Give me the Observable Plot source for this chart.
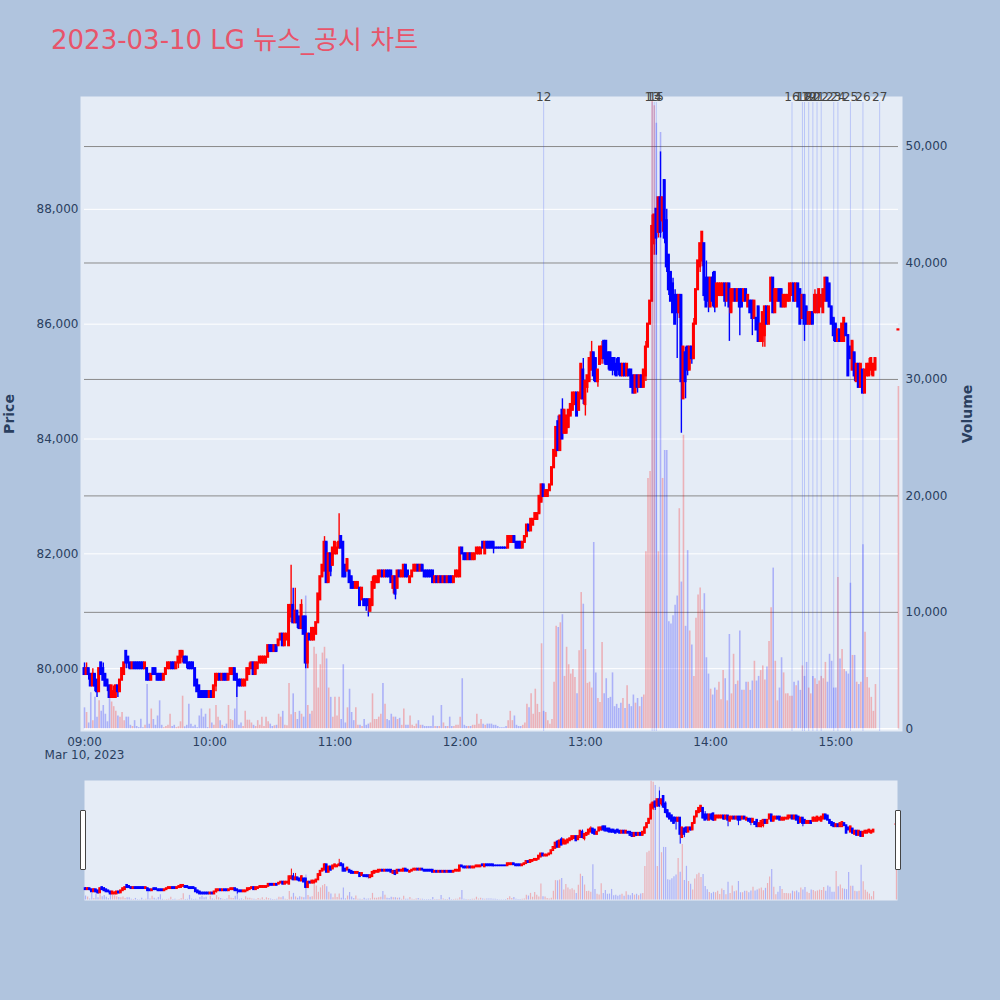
<!DOCTYPE html>
<html lang="ko">
<head>
<meta charset="utf-8">
<script src="https://cdn.jsdelivr.net/npm/d3@7"></script>
<script src="https://cdn.jsdelivr.net/npm/@observablehq/plot@0.6"></script>
<style>
html,body{margin:0;padding:0;background:#B0C4DE;}
#root{position:relative;width:1000px;height:1000px;background:#B0C4DE;overflow:hidden;font-family:"DejaVu Sans",Verdana,"Noto Sans CJK KR",sans-serif;}
#root svg{position:absolute;left:0;}
.title{position:absolute;left:51px;top:23px;font-size:26px;line-height:34px;color:#E8546A;white-space:nowrap;font-family:"DejaVu Sans","Noto Sans CJK KR",sans-serif;}
.axt{position:absolute;font-size:14px;font-weight:bold;color:#2a3f5f;transform:translate(-50%,-50%) rotate(-90deg);white-space:nowrap;}
.handle{position:absolute;top:810px;width:4px;height:58px;background:#fff;border:1px solid #444;border-radius:1px;z-index:5;}
</style>
</head>
<body>
<div id="root">
  <div class="title">2023-03-10 LG 뉴스_공시 차트</div>
  <div class="axt" style="left:9px;top:414px">Price</div>
  <div class="axt" style="left:967px;top:414px">Volume</div>
  <div class="handle" style="left:80px"></div>
  <div class="handle" style="left:895px"></div>
</div>
<script>
// ---- data: 1-minute bars of 2023-03-10, 09:00-15:19 plus the 15:30 close (prices in units of 100 KRW)
const day = "2023-03-10";
const sessionStart = "09:00", sessionEnd = "15:20", closeAuction = "15:30";

const open = [
800,799,800,799,797,799,798,796,801,800, 799,798,797,795,795,795,797,796,798,799,
803,802,801,800,801,801,801,801,801,800, 800,799,798,800,800,799,799,799,798,799,
800,800,801,801,800,801,801,802,802,802, 801,801,801,800,798,797,796,796,796,796,
795,796,795,797,798,799,798,799,799,798, 799,799,800,799,798,798,797,797,798,799,
800,801,799,800,801,801,801,801,802,804, 804,803,804,804,805,806,804,805,804,809,
811,808,810,809,807,809,809,801,806,805, 805,806,808,812,816,817,822,815,820,818,
820,820,821,823,822,818,817,817,816,815, 814,814,814,812,812,812,812,810,811,814,
815,815,816,817,816,817,817,817,814,816, 814,817,816,816,818,817,815,816,817,817,
818,817,818,817,817,817,817,817,815,816, 815,816,815,816,815,816,816,815,816,816,
816,821,820,820,819,820,819,819,820,820, 820,822,820,822,822,822,822,821,821,821,
821,821,821,821,822,822,823,822,822,822, 821,822,823,825,824,825,826,826,827,829,
832,830,830,831,832,835,837,843,838,845, 841,841,842,844,845,846,848,845,847,852,
846,849,850,852,855,854,850,853,854,857, 857,855,855,854,854,853,854,853,851,853,
851,852,852,851,848,851,849,851,849,851, 856,860,864,874,880,876,882,878,885,878,
872,869,867,865,865,862,865,847,855,856, 852,856,854,860,866,870,871,874,868,868,
863,868,869,863,865,865,865,867,864,867, 862,864,866,864,866,866,864,866,863,864,
864,861,861,863,857,857,858,863,860,864, 868,862,864,866,866,863,863,864,864,865,
867,864,867,866,861,865,863,860,860,862, 862,862,862,863,862,864,868,867,863,861,
860,857,859,857,857,860,858,856,852,855, 850,853,849,852,848,851,851,852,851,852,
859];
const high = [
801,801,800,799,800,799,798,800,801,801, 799,798,797,797,797,797,797,798,800,801,
803,802,801,801,801,801,801,801,801,801, 800,799,799,800,800,799,799,799,799,800,
801,801,801,801,801,802,803,803,802,802, 801,801,801,800,798,797,796,796,796,796,
796,796,797,799,799,799,799,799,799,799, 800,800,800,799,798,798,798,798,800,801,
801,801,801,801,802,802,802,802,804,804, 804,804,804,805,806,806,806,806,811,818,
814,814,810,809,812,809,809,806,806,807, 807,808,813,816,818,823,822,820,820,821,
822,822,827,823,822,818,819,817,816,815, 815,815,814,814,812,812,812,812,816,816,
816,817,817,817,817,817,817,817,816,816, 817,817,817,818,818,817,816,817,818,818,
818,818,818,817,817,817,817,817,816,816, 816,816,816,816,816,816,816,816,817,817,
821,821,820,820,820,820,820,820,821,821, 821,822,822,822,822,822,822,821,821,821,
821,821,821,823,823,823,823,822,822,822, 822,823,825,825,826,826,827,827,830,832,
832,831,831,832,835,838,842,844,844,847, 845,844,845,846,848,848,848,848,853,854,
850,851,854,857,855,854,852,856,857,857, 857,855,855,854,854,854,854,853,853,853,
853,852,852,851,851,851,851,851,852,857, 860,864,879,879,880,882,890,882,885,880,
872,869,868,866,865,865,865,856,856,856, 856,856,861,866,871,874,876,874,871,868,
868,869,869,867,867,867,867,867,867,867, 866,866,866,866,866,866,866,866,865,864,
864,864,861,863,860,862,863,863,863,868, 868,866,866,866,866,865,865,865,867,867,
867,867,867,866,865,865,863,862,862,862, 866,865,866,865,866,868,868,867,863,861,
860,859,859,860,861,860,858,856,857,855, 853,853,853,852,852,853,854,854,853,854,
859];
const low = [
799,799,798,797,797,796,795,796,799,798, 797,796,795,795,795,795,795,796,798,799,
800,800,800,800,800,800,800,800,800,800, 798,798,798,799,799,798,798,798,798,799,
800,800,800,800,800,800,801,801,801,800, 800,800,800,797,796,795,795,795,795,795,
795,795,795,796,798,798,798,798,798,798, 799,799,798,795,797,797,797,797,798,799,
800,799,799,800,801,801,801,801,802,803, 803,803,803,804,805,804,804,805,804,808,
808,808,807,807,807,806,800,800,805,805, 805,806,808,812,816,817,815,815,816,818,
820,820,821,821,816,816,817,815,814,814, 814,814,811,812,811,810,809,810,811,814,
815,815,816,816,816,816,816,815,813,812, 814,816,816,816,816,816,815,816,817,817,
817,817,817,816,816,816,816,815,815,815, 815,815,815,815,815,815,815,815,816,816,
816,820,819,819,819,819,819,819,820,820, 820,821,820,821,821,821,820,821,821,821,
821,821,821,821,822,822,822,821,821,821, 821,822,823,824,824,825,826,826,827,829,
830,830,830,831,832,835,837,838,838,840, 841,841,842,844,845,846,844,845,847,846,
844,848,850,852,850,850,849,853,853,853, 853,852,852,851,851,851,851,851,851,851,
851,851,849,848,848,848,849,849,849,850, 856,860,864,872,872,875,875,876,874,869,
865,864,862,860,854,861,841,847,847,851, 852,853,854,860,866,869,870,864,863,862,
863,863,862,863,865,865,865,863,864,857, 862,864,864,864,858,863,864,864,863,862,
858,861,859,857,857,856,856,860,860,864, 862,862,864,864,863,863,863,864,864,865,
864,864,863,860,861,857,860,860,860,860, 862,862,862,863,862,864,864,863,860,857,
857,857,857,857,857,858,851,854,852,850, 850,849,849,848,848,851,851,851,851,852,
859];
const close = [
799,800,799,797,799,797,796,800,799,798, 797,797,795,797,796,797,796,798,800,801,
801,801,800,801,800,800,800,800,800,801, 798,798,799,799,799,798,798,798,799,800,
801,801,800,800,801,802,803,803,801,801, 800,800,800,797,796,795,795,795,795,795,
796,795,797,799,799,798,799,798,798,799, 800,800,798,798,797,797,798,798,800,800,
801,799,801,801,802,802,802,802,804,803, 803,804,803,805,806,804,806,806,811,811,
808,810,808,807,811,806,801,806,805,807, 807,808,813,816,818,822,815,820,817,821,
822,821,822,821,816,816,819,815,814,814, 815,815,811,814,811,811,811,812,815,816,
816,817,817,816,817,816,816,815,816,813, 817,816,817,818,816,816,816,817,818,818,
817,818,817,816,816,816,816,815,816,815, 816,815,816,815,816,815,815,816,817,817,
821,820,819,819,820,819,820,820,821,821, 821,821,822,821,821,821,821,821,821,821,
821,821,821,823,823,823,822,821,821,821, 822,823,825,824,826,826,827,827,830,832,
830,831,831,832,835,838,842,838,844,840, 845,844,845,846,848,848,844,848,853,847,
850,851,854,855,851,850,852,856,856,854, 853,853,852,852,852,851,852,851,853,851,
853,851,849,848,851,849,851,849,852,856, 860,864,877,879,875,882,876,882,875,870,
866,864,862,860,862,865,850,856,850,852, 856,854,860,866,871,874,876,865,863,864,
868,864,863,867,867,867,867,864,867,863, 866,866,864,866,863,863,866,864,865,862,
861,864,859,857,860,862,863,860,863,868, 862,866,866,864,863,865,865,865,867,867,
864,867,863,860,865,860,860,862,862,860, 865,865,866,865,866,868,864,863,860,858,
857,859,857,860,861,858,851,854,857,851, 853,849,853,848,852,853,853,854,853,854,
859];
const volume = [
1800,1400,500,3100,700,2700,1000,2400,1500,2000, 1250,600,2700,2300,1900,1500,1100,1000,1400,700,
1000,1000,300,200,700,200,100,830,100,300, 3800,400,1700,800,300,1100,2400,300,100,200,
300,1250,200,300,100,170,600,2800,170,300, 2100,400,170,300,100,1100,1700,1000,1250,100,
1700,500,300,2000,1000,700,300,200,400,2000, 800,700,1700,3700,300,500,200,1500,740,740,
500,300,200,700,300,1000,200,1000,600,400, 200,260,300,1250,1000,1500,300,260,3900,1200,
3000,1400,800,1500,1250,1000,11400,2000,1250,1500, 7000,6400,3500,5500,6500,7000,6000,3500,2700,1000,
2700,1100,2700,800,5500,500,1800,3400,1400,700, 1800,300,300,200,800,300,400,500,3000,800,
800,1000,1250,3900,2100,800,700,1250,1000,1000, 800,900,300,1700,300,300,1100,300,200,400,
700,300,300,200,200,200,200,1100,200,200, 200,2000,500,200,200,1000,200,200,300,300,
1000,4300,300,200,200,200,300,300,1250,400, 800,400,300,400,400,400,300,300,200,100,
100,100,200,700,1500,700,1100,300,200,200, 300,500,2100,1800,3000,1250,3400,2100,1400,7300,
1500,1400,700,400,800,4000,8800,8700,9100,9800, 4500,7000,5500,4700,5100,4400,3000,6700,11700,10700,
6800,3900,4000,3500,16000,4800,2600,2250,7400,3000, 4300,2600,2700,4800,1900,2100,1750,2200,2600,1750,
3700,2100,1900,2900,2200,2600,1900,2700,2900,15200, 21500,22100,54000,53500,52000,15200,51200,21500,23900,23900,
9200,9000,9700,10600,11400,18900,12600,25200,8800,15300, 8400,7200,4500,9500,11500,12100,10200,11600,6100,4700,
3400,2900,3500,3300,4000,2500,5000,4300,2400,8100, 3000,6400,3800,4100,8400,3300,3300,4000,4000,3300,
4100,5800,4100,4500,5000,5400,4200,5300,7500,10400, 13800,5800,2400,3500,6100,4800,3000,3000,2800,2800,
4000,3700,4100,3300,5400,4500,5700,3500,3000,4500, 4300,3800,4100,4500,4300,5700,4000,6400,5800,3500,
3500,13000,6000,6800,5100,4900,4700,12500,6300,6300, 4000,3800,4000,15800,8300,4400,3500,2700,1500,3800,
29400];

const priceTicks = [80000, 82000, 84000, 86000, 88000];
const volumeTicks = [0, 10000, 20000, 30000, 40000, 50000];
const hourTicks = ["09:00","10:00","11:00","12:00","13:00","14:00","15:00"];
const dateLabel = "Mar 10, 2023";
const newsLabels = ["12","13","14","15","16","17","18","19","20","21","22","23","24","25","26","27"];
const newsTimes = ["12:40","13:32","13:33","13:34","14:39","14:44","14:45","14:47","14:49","14:51","14:53","14:59","15:01","15:07","15:13","15:21"];

// ---- build tables
const parseT = d3.timeParse("%Y-%m-%d %H:%M:%S");
const at = s => parseT(day + " " + (s.length === 5 ? s + ":00" : s));
const times = d3.timeMinute.range(at(sessionStart), at(sessionEnd)).concat([at(closeAuction)]);
const rows = times.map((t, i) => ({
  t, o: open[i] * 100, h: high[i] * 100, l: low[i] * 100, c: close[i] * 100, v: volume[i],
  up: close[i] > open[i] || (close[i] === open[i] && i > 0 && close[i] > close[i - 1])
}));
const news = newsLabels.map((label, i) => ({label, t: at(newsTimes[i])}));

const UP = "#FF0000", DOWN = "#0000FF";
const col = d => d.up ? UP : DOWN;
const shift = (t, s) => new Date(+t + s * 1000);

const FONT = '"DejaVu Sans", Verdana, sans-serif';
const root = document.getElementById("root");
const place = (svg, top) => { svg.style.top = top + "px"; root.appendChild(svg); };

// ---- main chart (three stacked layers sharing the same frame)
const xDomain = [at("08:58:05"), at("15:31:57")];
const priceDomain = [78906, 89965];
const volDomain = [-232, 54297];
const frameOpts = {
  width: 1000, height: 780, marginTop: 96, marginBottom: 49, marginLeft: 80, marginRight: 98,
  style: {background: "transparent", overflow: "visible", fontFamily: FONT, fontSize: "12px", color: "#2a3f5f"}
};

// layer 1: background + volume grid
place(Plot.plot({
  ...frameOpts,
  x: {type: "time", domain: xDomain, axis: null},
  y: {domain: volDomain, axis: null},
  marks: [
    Plot.frame({fill: "#E5ECF6", stroke: "none"}),
    Plot.ruleY(volumeTicks.slice(1), {stroke: "#8a8a8a", strokeWidth: 1, insetLeft: 4, insetRight: 4}),
    Plot.ruleY([0], {stroke: "#ffffff", strokeWidth: 1.5, insetLeft: 4, insetRight: 4})
  ]
}), 0);

// layer 2: price grid, candles, axes
place(Plot.plot({
  ...frameOpts,
  x: {type: "time", domain: xDomain},
  y: {domain: priceDomain},
  marks: [
    Plot.ruleY(priceTicks, {stroke: "#ffffff", strokeWidth: 1, insetLeft: 4, insetRight: 4}),
    Plot.ruleX(rows, {x: "t", y1: "l", y2: "h", stroke: col, strokeWidth: 1.4}),
    Plot.rect(rows, {
      x1: d => shift(d.t, -17), x2: d => shift(d.t, 17),
      y1: d => Math.min(d.o, d.c), y2: d => Math.max(d.o, d.c),
      fill: col, stroke: col, strokeWidth: 1.8, insetTop: -0.2, insetBottom: -0.2
    }),
    Plot.axisY({ticks: priceTicks, tickFormat: d3.format(","), tickSize: 0, tickPadding: 2, label: null, fontSize: 12}),
    Plot.axisX({ticks: hourTicks.map(at), tickFormat: d3.timeFormat("%H:%M"), tickSize: 0, tickPadding: 6, label: null, fontSize: 12}),
    Plot.text([dateLabel], {x: () => at(sessionStart), text: d => d, frameAnchor: "bottom", dy: 27, fontSize: 12, fill: "#2a3f5f"})
  ]
}), 0);

// layer 3: volume bars, news markers, right axis
place(Plot.plot({
  ...frameOpts,
  x: {type: "time", domain: xDomain, axis: null},
  y: {domain: volDomain},
  marks: [
    Plot.ruleX(rows, {x: "t", y1: () => 0, y2: "v", stroke: col, strokeOpacity: 0.25, strokeWidth: 1.6}),
    Plot.ruleX(news, {x: "t", stroke: "#2040ff", strokeOpacity: 0.22, strokeWidth: 1, insetTop: 6}),
    Plot.text(news, {x: "t", text: "label", frameAnchor: "top", lineAnchor: "middle", dy: 1, fontSize: 12, fill: "#444444"}),
    Plot.axisY({anchor: "right", ticks: volumeTicks, tickFormat: d3.format(","), tickSize: 0, tickPadding: 3, label: null, fontSize: 12})
  ]
}), 0);

// ---- range slider (overview)
const sliderDomain = [at("08:59:30"), at("15:30:30")];
const sliderOpts = {
  width: 1000, height: 140, marginTop: 10, marginBottom: 10, marginLeft: 84, marginRight: 103,
  style: {background: "transparent", overflow: "visible", fontFamily: FONT}
};
place(Plot.plot({
  ...sliderOpts,
  x: {type: "time", domain: sliderDomain, axis: null},
  y: {domain: volDomain, axis: null},
  marks: [
    Plot.frame({fill: "#E5ECF6", stroke: "none"}),
    Plot.ruleX(rows, {x: "t", y1: () => 0, y2: "v", stroke: col, strokeOpacity: 0.25, strokeWidth: 1.2})
  ]
}), 770);
place(Plot.plot({
  ...sliderOpts,
  x: {type: "time", domain: sliderDomain, axis: null},
  y: {domain: priceDomain, axis: null},
  marks: [
    Plot.ruleX(rows, {x: "t", y1: "l", y2: "h", stroke: col, strokeWidth: 1}),
    Plot.rect(rows, {
      x1: d => shift(d.t, -20), x2: d => shift(d.t, 20),
      y1: d => Math.min(d.o, d.c), y2: d => Math.max(d.o, d.c),
      fill: col, stroke: col, strokeWidth: 1.2, insetTop: -0.3, insetBottom: -0.3
    })
  ]
}), 770);
</script>
</body>
</html>
